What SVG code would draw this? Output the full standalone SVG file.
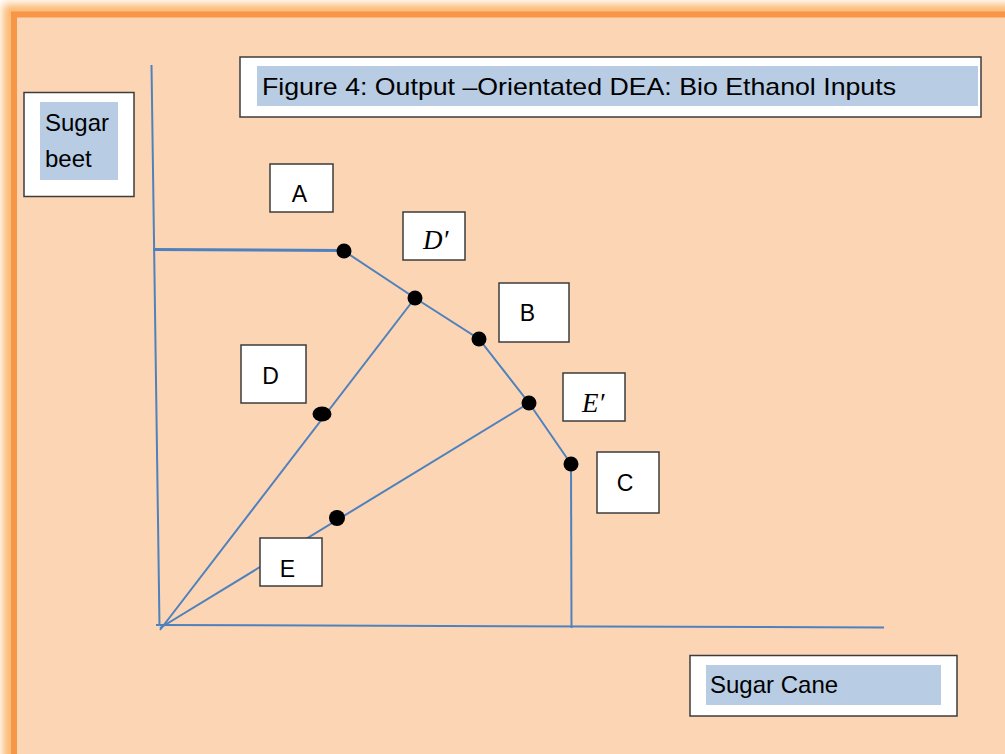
<svg xmlns="http://www.w3.org/2000/svg" width="1005" height="754" viewBox="0 0 1005 754">
<defs>
<filter id="glow" x="-10%" y="-10%" width="120%" height="120%">
<feGaussianBlur stdDeviation="4"/>
</filter>
<style>
.box{fill:#ffffff;stroke:#3c3c3c;stroke-width:1.5}
.hl{fill:#B8CCE4}
.lbl{font-family:"Liberation Sans",Arial,sans-serif;font-size:23px;fill:#000;text-anchor:middle}
.txt{font-family:"Liberation Sans",Arial,sans-serif;font-size:24px;fill:#000}
.math{font-family:"Liberation Serif","Times New Roman",serif;font-style:italic;font-size:27px;fill:#000}
.ln{stroke:#4F81BD;stroke-width:2;fill:none}
.dot{fill:#000}
</style>
</defs>
<rect x="0" y="0" width="1005" height="754" fill="#ffffff"/>
<rect x="10" y="11" width="1010" height="760" fill="none" stroke="#FBB870" stroke-width="14" filter="url(#glow)"/>
<rect x="14" y="14.5" width="1005" height="755" fill="#FCD5B5" stroke="#F79646" stroke-width="6"/>

<g id="connectors">
<line class="ln" x1="151.5" y1="65" x2="159.5" y2="626"/>
<line class="ln" x1="156" y1="625" x2="884" y2="627.5"/>
<line class="ln" x1="153" y1="249.5" x2="344" y2="250.5" style="stroke-width:3"/>
<polyline class="ln" points="344,251 415,298 479,339 529,403 571,464"/>
<line class="ln" x1="571" y1="464" x2="571.5" y2="628"/>
<line class="ln" x1="160" y1="630" x2="415" y2="298"/>
<line class="ln" x1="160" y1="628" x2="529" y2="403"/>
</g>

<g id="points">
<circle class="dot" cx="344" cy="251" r="7.5"/>
<circle class="dot" cx="415" cy="298" r="7.5"/>
<circle class="dot" cx="479" cy="339" r="7.5"/>
<circle class="dot" cx="529" cy="403" r="7.5"/>
<circle class="dot" cx="571" cy="464" r="7.5"/>
<ellipse class="dot" cx="322" cy="414" rx="9.5" ry="7.5"/>
<circle class="dot" cx="337" cy="518" r="8"/>
</g>

<g id="title">
<rect class="box" x="240" y="57" width="741" height="60"/>
<rect class="hl" x="257" y="66" width="721" height="40"/>
<text class="txt" x="262" y="95" textLength="634" lengthAdjust="spacingAndGlyphs">Figure 4: Output –Orientated DEA: Bio Ethanol Inputs</text>
</g>

<g id="sugar-beet">
<rect class="box" x="24" y="92.5" width="110" height="104"/>
<rect class="hl" x="40" y="102" width="78" height="78"/>
<text class="txt" x="45" y="131">Sugar</text>
<text class="txt" x="45" y="167">beet</text>
</g>

<g id="sugar-cane">
<rect class="box" x="690" y="655.5" width="267" height="60.5"/>
<rect class="hl" x="706" y="665" width="235" height="40"/>
<text class="txt" x="710" y="693">Sugar Cane</text>
</g>

<g id="node-A">
<rect class="box" x="270" y="164" width="63" height="48"/>
<text class="lbl" x="299.5" y="202">A</text>
</g>
<g id="node-Dprime">
<rect class="box" x="403" y="212" width="62" height="48"/>
<text class="math" x="423" y="249">D′</text>
</g>
<g id="node-B">
<rect class="box" x="499" y="283" width="70" height="59"/>
<text class="lbl" x="527.5" y="321">B</text>
</g>
<g id="node-D">
<rect class="box" x="241" y="345" width="65" height="58"/>
<text class="lbl" x="270.5" y="384">D</text>
</g>
<g id="node-Eprime">
<rect class="box" x="563" y="373" width="62" height="48"/>
<text class="math" x="582" y="412">E′</text>
</g>
<g id="node-C">
<rect class="box" x="597" y="452" width="62" height="61"/>
<text class="lbl" x="625" y="491">C</text>
</g>
<g id="node-E">
<rect class="box" x="260" y="538" width="62" height="48"/>
<text class="lbl" x="287.5" y="577">E</text>
</g>
</svg>
